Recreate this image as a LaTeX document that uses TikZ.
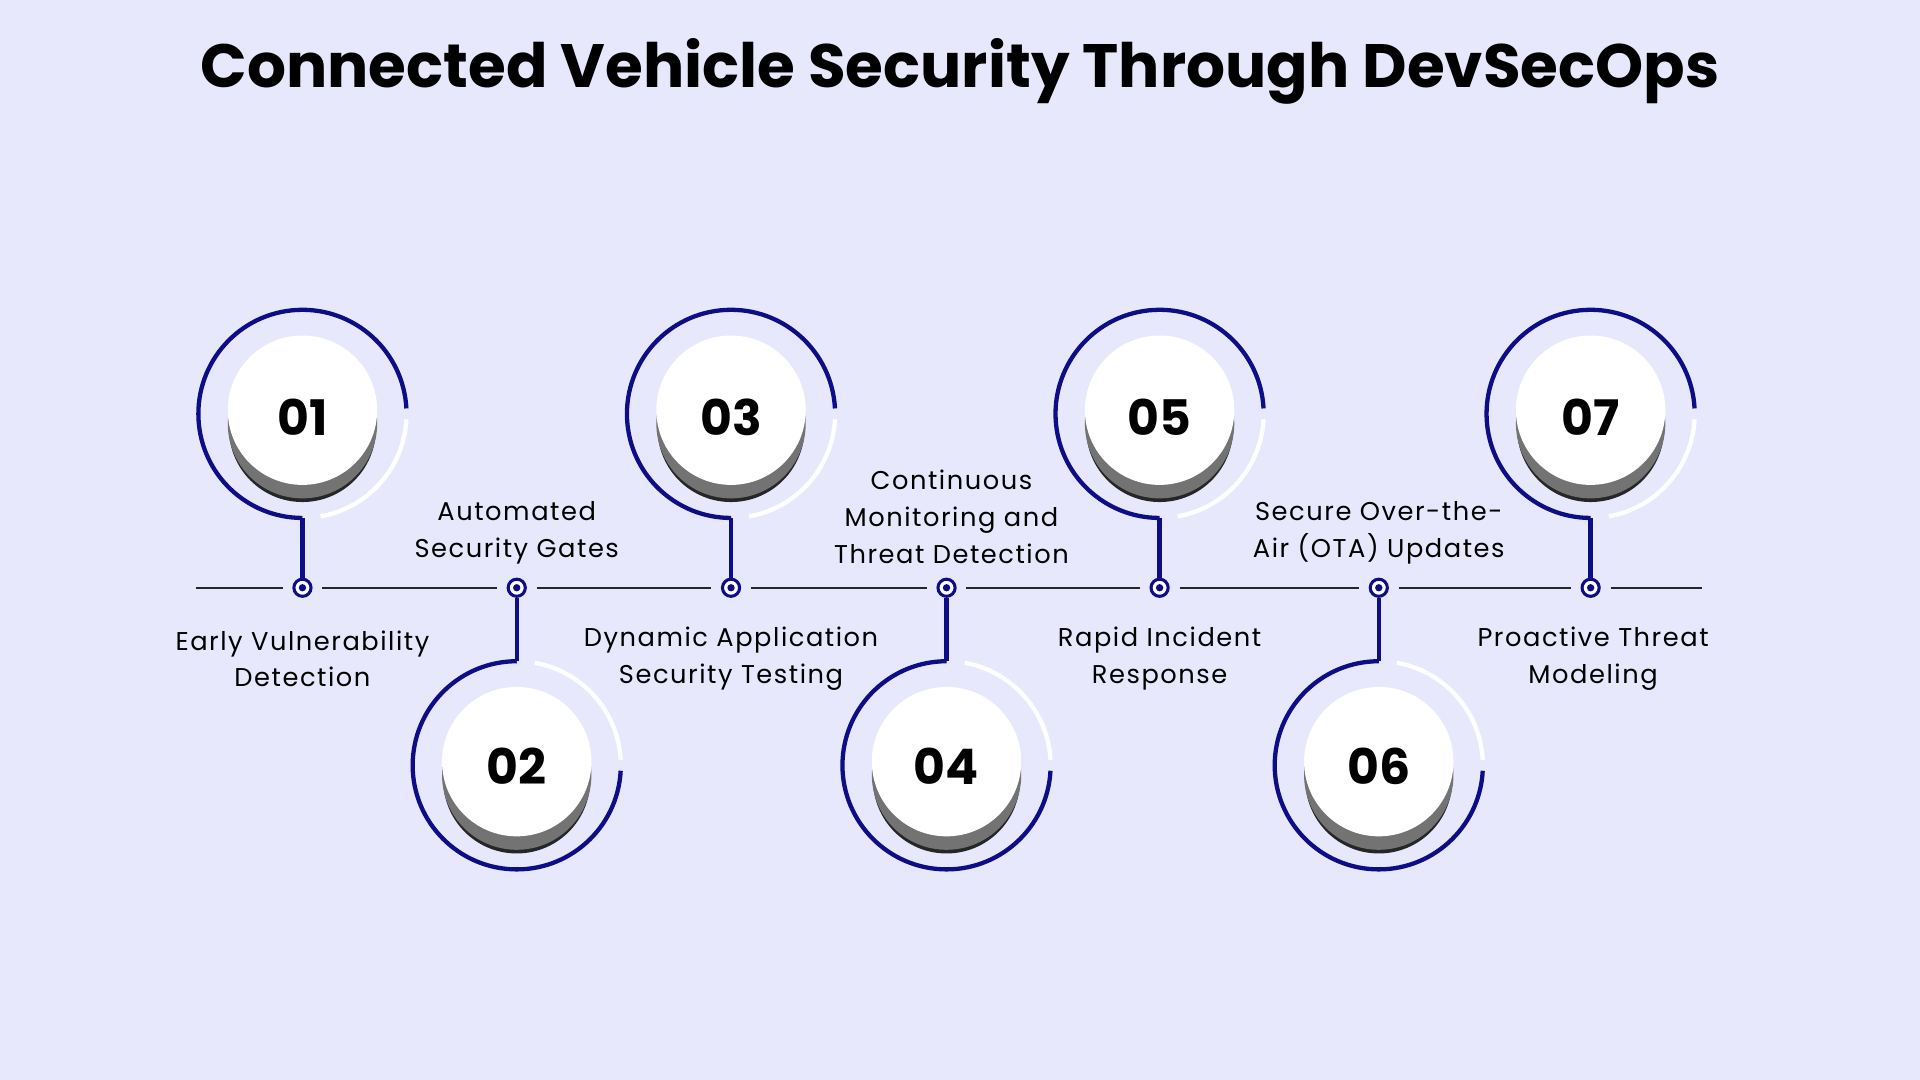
\documentclass[tikz,border=0pt]{standalone}
\usepackage{fontspec}
\setmainfont{Poppins}
\newfontfamily\lblfont[LetterSpace=6]{Poppins}
\definecolor{bgc}{HTML}{E8E8FD}
\definecolor{navy}{HTML}{0D0D85}
\begin{document}
\begin{tikzpicture}[x=1pt,y=-1pt,
  ring/.style={navy,line width=3.5pt},
  wring/.style={white,line width=3.5pt},
  lbl/.style={font=\lblfont\fontsize{21}{30}\selectfont,align=center,text=black},
  num/.style={font=\fontsize{40}{40}\selectfont\bfseries,text=black},
  dotc/.style={circle,draw=navy,line width=2.5pt,fill=white,minimum size=14pt,inner sep=0pt},
  tl/.style={black!85,line width=1.6pt}]
\fill[bgc] (0,0) rectangle (1568,882);
\useasboundingbox (0,0) rectangle (1568,882);
\node[font=\fontsize{50}{50}\selectfont\bfseries] (title) at (784,58) {Connected Vehicle Security Through DevSecOps};
% dots
\foreach \i/\x in {1/247,2/422,3/597,4/773,5/947,6/1126,7/1299}{
  \node[dotc] (d\i) at (\x,480) {};
  \fill[navy] (d\i) circle (3pt);
}
\coordinate (L0) at (160,480); \coordinate (L8) at (1390,480);
\draw[tl] (L0) -- ([xshift=-8pt]d1.west);
\foreach \a/\b in {1/2,2/3,3/4,4/5,5/6,6/7}{
  \draw[tl] ([xshift=8pt]d\a.east) -- ([xshift=-8pt]d\b.west);
}
\draw[tl] ([xshift=8pt]d7.east) -- (L8);
% top circles
\foreach \i/\x/\n in {1/247/01,3/597/03,5/947/05,7/1299/07}{
  \coordinate (c\i) at (\x,338);
  \draw[ring] (c\i) ++(-3:85) arc[start angle=-3,end angle=-270,radius=85];
  \draw[wring] (c\i) ++(3:85) arc[start angle=3,end angle=80,radius=85];
  \draw[navy,line width=3.5pt] ([yshift=-85pt]c\i) -- (d\i.north);
  \fill[black!85] ([yshift=-12pt]c\i) circle (60);
  \fill[black!55] ([yshift=-8pt]c\i) circle (61);
  \fill[white] ([yshift=3pt]c\i) circle (61);
  \node[num] (n\i) at ([yshift=-3pt]c\i) {\n};
}
% bottom circles
\foreach \i/\x/\n in {2/422/02,4/773/04,6/1126/06}{
  \coordinate (c\i) at (\x,625);
  \draw[ring] (c\i) ++(3:85) arc[start angle=3,end angle=270,radius=85];
  \draw[wring] (c\i) ++(-3:85) arc[start angle=-3,end angle=-80,radius=85];
  \draw[navy,line width=3.5pt] ([yshift=85pt]c\i) -- (d\i.south);
  \fill[black!85] ([yshift=-12pt]c\i) circle (60);
  \fill[black!55] ([yshift=-8pt]c\i) circle (61);
  \fill[white] ([yshift=3pt]c\i) circle (61);
  \node[num] (n\i) at ([yshift=-1pt]c\i) {\n};
}
% labels
\node[lbl] (t1) at (247,538) {Early Vulnerability\\Detection};
\node[lbl] (t2) at (422,435) {Automated\\Security Gates};
\node[lbl] (t3) at (597,538) {Dynamic Application\\Security Testing};
\node[lbl] (t4) at (777,422) {Continuous\\Monitoring and\\Threat Detection};
\node[lbl] (t5) at (947,538) {Rapid Incident\\Response};
\node[lbl] (t6) at (1126,435) {Secure Over-the-\\Air (OTA) Updates};
\node[lbl] (t7) at (1301,538) {Proactive Threat\\Modeling};
\end{tikzpicture}
\end{document}
